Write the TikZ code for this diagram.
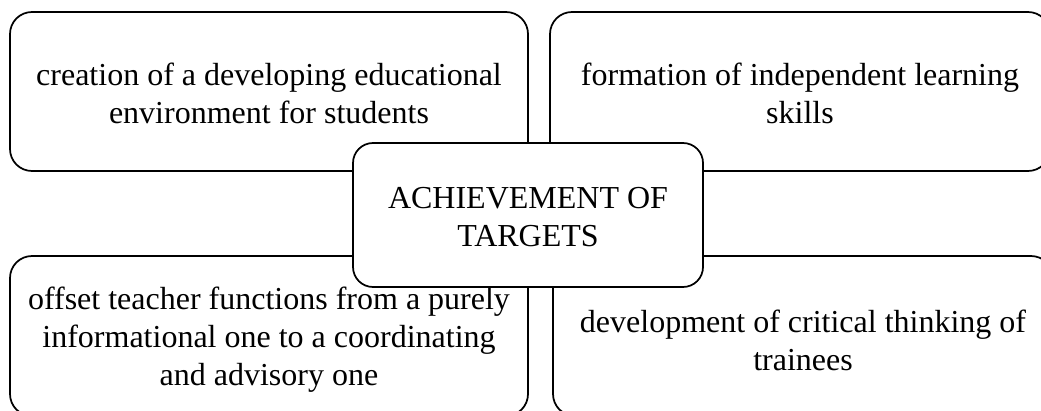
\documentclass[tikz,border=0pt]{standalone}
\usepackage{fontspec}
\setmainfont{Liberation Serif}
\newcommand{\lowerstrut}[1]{\rule{0pt}{#1}}
\begin{document}
\begin{tikzpicture}[x=0.75pt,y=-0.75pt,
  box/.style={draw=black, line width=1.3pt, fill=white, rounded corners=16.5pt,
    inner sep=0pt, align=center, font=\fontsize{24pt}{28.5pt}\selectfont},
  hub/.style={box, rounded corners=15pt}]
\useasboundingbox (0,0) rectangle (1041,410);
\clip (0,0) rectangle (1041,410);
\node[box, minimum width=518*0.75pt, minimum height=159*0.75pt] (tl) at (269,91.5)
  {\lowerstrut{20pt}creation of a developing educational\\environment for students};
\node[box, minimum width=500*0.75pt, minimum height=159*0.75pt] (tr) at (800,91.5)
  {\lowerstrut{20pt}formation of independent learning\\skills};
\node[box, minimum width=518*0.75pt, minimum height=160*0.75pt] (bl) at (269,336)
  {\lowerstrut{23pt}offset teacher functions from a purely\\informational one to a coordinating\\and advisory one};
\node[box, minimum width=500*0.75pt, minimum height=160*0.75pt] (br) at (803,336)
  {\lowerstrut{24pt}development of critical thinking of\\trainees};
\node[hub, minimum width=350*0.75pt, minimum height=144*0.75pt] (c) at (528,215)
  {\lowerstrut{19pt}ACHIEVEMENT OF\\TARGETS};
\end{tikzpicture}
\end{document}
